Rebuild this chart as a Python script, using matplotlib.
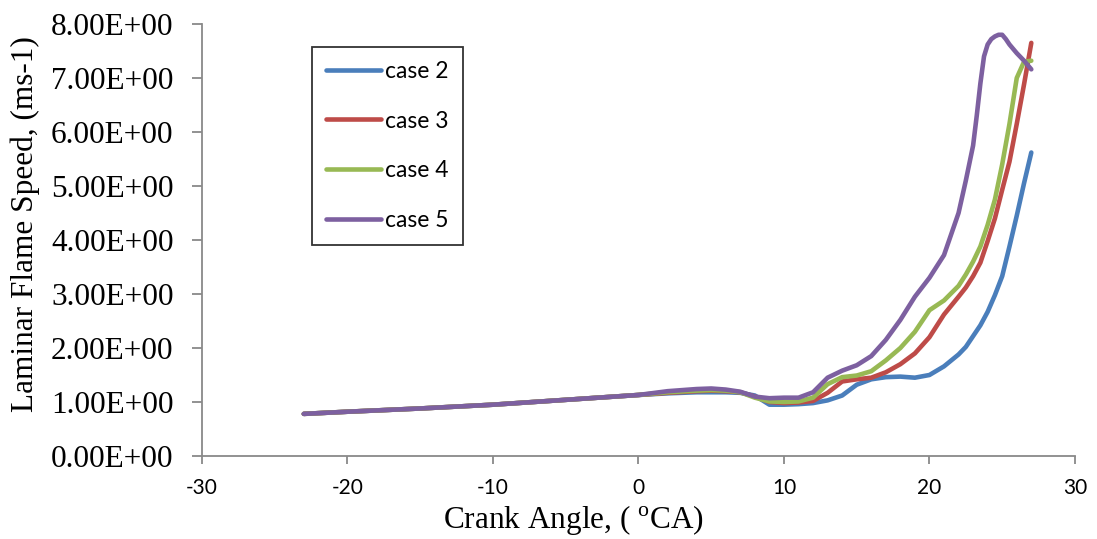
import matplotlib
matplotlib.use("Agg")
import matplotlib.pyplot as plt

crank_angle = [-23, -20, -15, -10, -5, 0, 2, 4, 5, 6, 7, 8, 9, 10, 11, 12, 13, 14, 15, 16,
               17, 18, 19, 20, 21, 22, 22.5, 23, 23.5, 24, 24.5, 25, 25.5, 26, 26.5, 27]

case2 = [0.78, 0.82, 0.88, 0.95, 1.04, 1.13, 1.16, 1.18, 1.18, 1.18, 1.17, 1.12, 0.95, 0.95,
         0.96, 0.98, 1.03, 1.12, 1.32, 1.42, 1.46, 1.47, 1.45, 1.50, 1.66, 1.88, 2.02, 2.22,
         2.42, 2.67, 2.98, 3.33, 3.88, 4.45, 5.05, 5.62]
case3 = [0.78, 0.82, 0.88, 0.95, 1.04, 1.13, 1.17, 1.20, 1.21, 1.20, 1.18, 1.10, 1.00, 0.98,
         0.99, 1.02, 1.17, 1.38, 1.42, 1.45, 1.55, 1.70, 1.90, 2.20, 2.62, 2.95, 3.12, 3.33,
         3.58, 3.98, 4.40, 4.93, 5.45, 6.15, 6.88, 7.65]
case4 = [0.78, 0.82, 0.88, 0.95, 1.04, 1.13, 1.18, 1.21, 1.22, 1.21, 1.18, 1.08, 1.01, 1.00,
         1.01, 1.08, 1.33, 1.46, 1.49, 1.57, 1.77, 2.00, 2.30, 2.70, 2.88, 3.15, 3.36, 3.60,
         3.88, 4.28, 4.75, 5.40, 6.15, 7.00, 7.30, 7.32]

crank_angle_5 = [-23, -20, -15, -10, -5, 0, 2, 4, 5, 6, 7, 8, 9, 10, 11, 12, 13, 14, 15, 16,
                 17, 18, 19, 20, 21, 22, 22.5, 23, 23.25, 23.5, 23.75, 24, 24.25, 24.5, 24.75,
                 25, 25.25, 25.5, 26, 26.5, 27]
case5 = [0.78, 0.82, 0.88, 0.95, 1.04, 1.13, 1.20, 1.24, 1.25, 1.23, 1.19, 1.10, 1.07, 1.08,
         1.08, 1.18, 1.45, 1.58, 1.68, 1.85, 2.15, 2.52, 2.95, 3.30, 3.72, 4.50, 5.10, 5.75,
         6.30, 6.90, 7.40, 7.62, 7.72, 7.77, 7.80, 7.80, 7.72, 7.62, 7.46, 7.32, 7.16]

series = [("case 2", crank_angle, case2, "#4A7EBB"),
          ("case 3", crank_angle, case3, "#BE4B48"),
          ("case 4", crank_angle, case4, "#98B954"),
          ("case 5", crank_angle_5, case5, "#7D60A0")]

x_ticks = [-30, -20, -10, 0, 10, 20, 30]
y_ticks = [0, 1, 2, 3, 4, 5, 6, 7, 8]

plt.rcParams['mathtext.fontset'] = 'custom'
plt.rcParams['mathtext.rm'] = 'Liberation Serif'

fig = plt.figure(figsize=(10.97, 5.39), dpi=100)
ax = fig.add_axes([0.1841, 0.1540, 0.7958, 0.8015])

for name, xs, vals, col in series:
    ax.plot(xs, vals, color=col, lw=3.3, label=name, solid_capstyle='round',
            solid_joinstyle='round')

ax.set_xlim(-30, 30)
ax.set_ylim(0, 8)
ax.set_xticks(x_ticks)
ax.set_yticks(y_ticks)
ax.set_xticklabels([str(t) for t in x_ticks], fontfamily='Lato', fontsize=15)
ax.set_yticklabels(["%.2fE+00" % t for t in y_ticks], fontfamily='Liberation Serif', fontsize=22.5)

for s in ['top', 'right']:
    ax.spines[s].set_visible(False)
for s in ['left', 'bottom']:
    ax.spines[s].set_color('#898989')
    ax.spines[s].set_linewidth(1.3)
ax.tick_params(axis='both', direction='out', color='#898989', width=1.3)
ax.tick_params(axis='x', length=6, pad=10)
ax.tick_params(axis='y', length=7.5, pad=13)

ax.set_xlabel(r"Crank Angle, ( $^{\mathrm{o}}$CA)", fontfamily='Liberation Serif', fontsize=22.5)
ax.xaxis.set_label_coords(0.426, -0.109)
ax.set_ylabel("Laminar Flame Speed, (ms-1)", fontfamily='Liberation Serif', fontsize=22.5)
ax.yaxis.set_label_coords(-0.1856, 0.537)

leg = ax.legend(loc='upper left', bbox_to_anchor=(0.126, 0.947), borderaxespad=0,
                prop={'family': 'Lato', 'size': 16.5}, frameon=True, fancybox=False,
                edgecolor='black', labelspacing=1.26, handlelength=2.4, handletextpad=0.2,
                borderpad=0.6)
leg.get_frame().set_linewidth(1.3)

fig.savefig("out.png", dpi=100)
